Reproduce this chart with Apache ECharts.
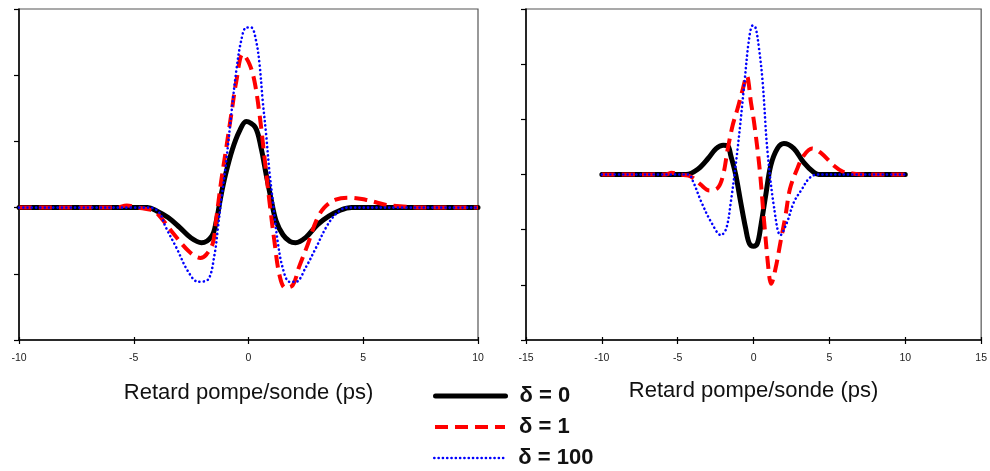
<!DOCTYPE html>
<html><head><meta charset="utf-8">
<script src="https://cdn.jsdelivr.net/npm/echarts@6/dist/echarts.min.js"></script>
<style>html,body{margin:0;padding:0;background:#fff}#c{width:990px;height:471px}</style>
</head><body><div id="c"></div>
<script>
// ---- data ----
const seriesNames = ['δ = 0', 'δ = 1', 'δ = 100'];
const axisTitle = 'Retard pompe/sonde (ps)';
const leftXRange = [-10, 10];
const rightXRange = [-15, 15];
const leftYRange = [-2, 3];
const rightYRange = [-3, 3];

// left panel
const leftDelta0 = [[-10,0],[-7,0],[-5,0],[-4.4,0],[-4,-0.05],[-3.5,-0.15],[-3,-0.3],[-2.5,-0.46],[-2.05,-0.53],[-1.6,-0.43],[-1.4,-0.2],[-1.2,0.18],[-1,0.5],[-0.7,0.88],[-0.4,1.15],[-0.1,1.3],[0.3,1.21],[0.55,0.9],[0.77,0.5],[1,0.1],[1.2,-0.2],[1.5,-0.41],[1.8,-0.51],[2.05,-0.53],[2.5,-0.45],[3,-0.26],[3.5,-0.13],[4,-0.04],[4.5,0],[7,0],[10,0]];
const leftDelta1 = [[-10,0],[-7,0],[-5.8,0],[-5.3,0.03],[-4.8,0],[-4.3,-0.03],[-4,-0.08],[-3.3,-0.38],[-2.6,-0.66],[-2.1,-0.76],[-1.84,-0.71],[-1.55,-0.53],[-1.38,-0.1],[-1.19,0.4],[-0.97,0.9],[-0.75,1.41],[-0.53,1.91],[-0.25,2.32],[0.04,2.17],[0.26,1.91],[0.48,1.41],[0.7,0.75],[0.91,0.1],[1.13,-0.51],[1.35,-1.02],[1.6,-1.21],[1.93,-1.17],[2.2,-0.9],[2.58,-0.56],[2.95,-0.2],[3.3,0],[3.8,0.12],[4.4,0.15],[5.1,0.12],[5.55,0.08],[6,0.04],[6.6,0.02],[7.5,0],[10,0]];
const leftDelta100 = [[-10,0],[-7,0],[-5,0],[-4.3,0],[-3.9,-0.07],[-3.6,-0.3],[-3.15,-0.6],[-2.64,-0.96],[-2.2,-1.12],[-1.77,-1.09],[-1.48,-0.71],[-1.33,-0.3],[-1.19,0.1],[-0.97,0.7],[-0.75,1.41],[-0.53,2.07],[-0.32,2.52],[-0.1,2.72],[0.12,2.72],[0.33,2.52],[0.48,2.17],[0.62,1.61],[0.77,1.1],[0.91,0.55],[1.06,0.1],[1.27,-0.51],[1.49,-0.91],[1.78,-1.12],[2.07,-1.12],[2.5,-0.9],[2.95,-0.6],[3.38,-0.3],[3.8,-0.1],[4.3,0],[7,0],[10,0]];

// right panel
const rightDelta0 = [[-10,0],[-7,0],[-4.45,0],[-3.66,0.1],[-3,0.29],[-2.47,0.47],[-2,0.53],[-1.7,0.52],[-1.5,0.34],[-1.18,0],[-0.85,-0.5],[-0.52,-0.98],[-0.28,-1.25],[0,-1.3],[0.25,-1.25],[0.48,-0.93],[0.8,-0.38],[1.13,0.16],[1.57,0.47],[2,0.56],[2.66,0.47],[3.3,0.22],[3.96,0.04],[4.3,0],[7,0],[10,0]];
const rightDelta1 = [[-10,0],[-7,0],[-5.8,0],[-5.4,0.03],[-4.9,0],[-4.3,-0.02],[-4,-0.06],[-3.5,-0.18],[-2.9,-0.29],[-2.35,-0.24],[-2,0],[-1.7,0.47],[-1.37,0.9],[-1.05,1.2],[-0.7,1.56],[-0.45,1.79],[-0.17,1.3],[0.06,0.89],[0.4,0.1],[0.7,-0.87],[1.03,-1.84],[1.15,-1.98],[1.45,-1.7],[1.77,-1.23],[2.1,-0.75],[2.4,-0.26],[2.87,0.1],[3.3,0.34],[3.86,0.47],[4.4,0.4],[5.3,0.16],[5.9,0.05],[6.5,0.02],[7.5,0],[10,0]];
const rightDelta100 = [[-10,0],[-7,0],[-4.3,0],[-4,-0.12],[-3.44,-0.5],[-2.8,-0.86],[-2.15,-1.1],[-1.8,-0.98],[-1.5,-0.5],[-1.05,0.47],[-0.6,1.67],[-0.3,2.45],[-0.06,2.7],[0.13,2.66],[0.35,2.3],[0.6,1.67],[0.9,0.47],[1.35,-0.6],[1.77,-1.1],[2.2,-0.87],[2.66,-0.5],[3.2,-0.26],[3.66,-0.07],[4.2,0],[7,0],[10,0]];

// ---- chart ----
const FONT = "'Liberation Sans', Arial, sans-serif";
const lineStyles = [
  {color:'#000000', width:5, type:'solid', cap:'round', join:'round'},
  {color:'#ff0000', width:4, type:[13,7], cap:'butt', join:'round'},
  {color:'#0000ff', width:2.6, type:[0.1,4.2], cap:'round', join:'round'}
];
function mkSeries(name, data, idx, k) {
  const ls = lineStyles[k];
  return {
    name: name, type: 'line', xAxisIndex: idx, yAxisIndex: idx, data: data,
    symbol: 'none', smooth: 0.35, z: 2 + k,
    lineStyle: {color: ls.color, width: ls.width, type: ls.type, cap: ls.cap, join: ls.join},
    itemStyle: {color: ls.color}
  };
}
function mkX(grid, range, main, gap) {
  return {
    type: 'value', gridIndex: grid, min: range[0], max: range[1], interval: 5,
    position: 'bottom',
    name: main ? axisTitle : '', nameLocation: 'middle', nameGap: gap,
    nameTextStyle: {fontFamily: FONT, fontSize: 22, color: '#111'},
    axisLine: {show: main, onZero: false, lineStyle: {color: '#000', width: 1.5}},
    axisTick: {show: true, inside: !main, length: main ? 4 : 3, lineStyle: {color: '#000', width: 1.2}},
    axisLabel: {show: main, margin: 13, fontFamily: FONT, fontSize: 10.5, color: '#222'},
    splitLine: {show: false}
  };
}
function mkY(grid, range) {
  return {
    type: 'value', gridIndex: grid, min: range[0], max: range[1], interval: 1,
    axisLine: {show: true, onZero: false, lineStyle: {color: '#000', width: 1.5}},
    axisTick: {show: true, length: 5, lineStyle: {color: '#000', width: 1.2}},
    axisLabel: {show: false},
    splitLine: {show: false}
  };
}
function mkLegend(name, top) {
  return {
    data: [name], orient: 'vertical', left: 433, top: top, padding: 0,
    itemWidth: 70, itemHeight: 20, selectedMode: false,
    lineStyle: {width: 'inherit'},
    itemStyle: {opacity: 0, borderWidth: 0},
    textStyle: {fontFamily: FONT, fontWeight: 'bold', fontSize: 22, color: '#111', padding: [0, 0, 0, 9], lineHeight: 20}
  };
}
const option = {
  animation: false,
  backgroundColor: '#ffffff',
  grid: [
    {left: 19, top: 9, width: 459, height: 331, show: true, borderColor: '#555', borderWidth: 1.2, backgroundColor: 'transparent'},
    {left: 526, top: 9, width: 459, height: 331, show: true, borderColor: '#555', borderWidth: 1.2, backgroundColor: 'transparent'}
  ],
  xAxis: [mkX(0, leftXRange, true, 42), mkX(1, rightXRange, true, 40), mkX(0, leftXRange, false, 0), mkX(1, rightXRange, false, 0)],
  yAxis: [mkY(0, leftYRange), mkY(1, rightYRange)],
  legend: [mkLegend(seriesNames[0], 385), mkLegend(seriesNames[1], 416), mkLegend(seriesNames[2], 447)],
  series: [
    mkSeries(seriesNames[0], leftDelta0, 0, 0),
    mkSeries(seriesNames[1], leftDelta1, 0, 1),
    mkSeries(seriesNames[2], leftDelta100, 0, 2),
    mkSeries(seriesNames[0], rightDelta0, 1, 0),
    mkSeries(seriesNames[1], rightDelta1, 1, 1),
    mkSeries(seriesNames[2], rightDelta100, 1, 2)
  ]
};
const chart = echarts.init(document.getElementById('c'));
chart.setOption(option);
</script></body></html>
